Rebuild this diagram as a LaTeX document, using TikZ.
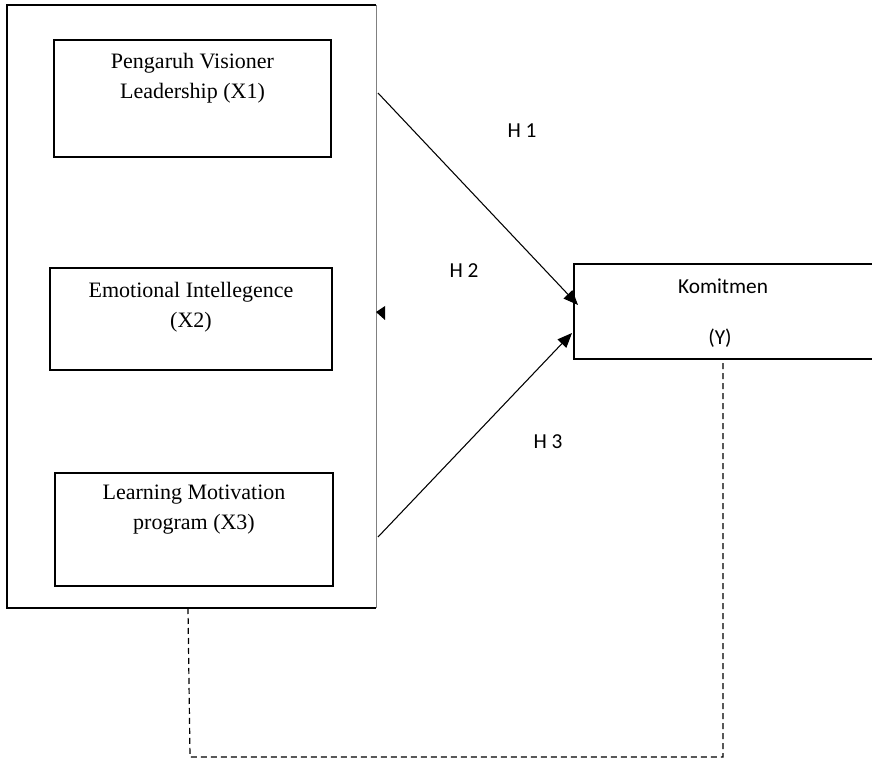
\documentclass[tikz,border=0pt]{standalone}
\usepackage{fontspec}
\setmainfont{Liberation Serif}
\newfontfamily\calibri{Carlito}
\usetikzlibrary{arrows.meta}

\begin{document}
\begin{tikzpicture}[x=0.75pt,y=-0.75pt,
    caja/.style={draw,line width=0.9pt,inner sep=0pt},
    texto/.style={align=center,font=\fontsize{16.5}{22.5}\selectfont},
    etiq/.style={font=\calibri\fontsize{16}{20}\selectfont},
    flecha/.style={line width=0.8pt,-{Triangle[length=11pt,width=9pt]}},
    punteada/.style={line width=0.9pt,dash pattern=on 4.5pt off 3pt}]
    		\useasboundingbox (0,0) rectangle (872,759);
    		%%%% MARCO VARIABLES X
    		\draw[line width=1.1pt] (376,5) -- (7,5) -- (7,608) -- (376,608);
    		\draw[gray,line width=0.6pt] (376,5) -- (376,608);
    		%%%% CAJAS X1 X2 X3
    		\node[caja,minimum width=207.75pt,minimum height=87.75pt] at (192.5,98.5) (x1) {};
    		\node[texto] at (192.5,78) (tx1) {Pengaruh Visioner\\Leadership (X1)};
    		\node[caja,minimum width=211.5pt,minimum height=76.5pt] at (191,319) (x2) {};
    		\node[texto] at (191,307) (tx2) {Emotional Intellegence\\(X2)};
    		\node[caja,minimum width=208.5pt,minimum height=84.75pt] at (194,529.5) (x3) {};
    		\node[texto] at (194,510) (tx3) {Learning Motivation\\program (X3)};
    		%%%% CAJA Y
    		\node[caja,minimum width=244.5pt,minimum height=71.25pt] at (737,311.5) (y) {};
    		\node[etiq] at (723,286) (ty) {Komitmen};
    		\node[etiq] at (720,338) (ty2) {(Y)};
    		%%%% HIPOTESIS
    		\node[etiq] at (522,131) (h1) {H 1};
    		\node[etiq] at (464,271) (h2) {H 2};
    		\node[etiq] at (548,442) (h3) {H 3};
    		%%%% FLECHAS
    		\coordinate (a1) at (378,93);
    		\coordinate (b1) at (578,305);
    		\coordinate (a3) at (378,537);
    		\coordinate (b3) at (572,333);
    		\draw[flecha] (a1) -- (b1);
    		\draw[flecha] (a3) -- (b3);
    		%punta suelta de H2
    		\coordinate (p2) at (376,312);
    		\fill (p2) -- ++(9,-6) -- ++(0,14) -- cycle;
    		%%%% LINEA PUNTEADA
    		\coordinate (d1) at (188,608);
    		\coordinate (d2) at (190,757);
    		\coordinate (d3) at (723,757);
    		\coordinate (d4) at (723,359);
    		\draw[punteada] (d1) -- (d2) -- (d3) -- (d4);
\end{tikzpicture}
\end{document}
